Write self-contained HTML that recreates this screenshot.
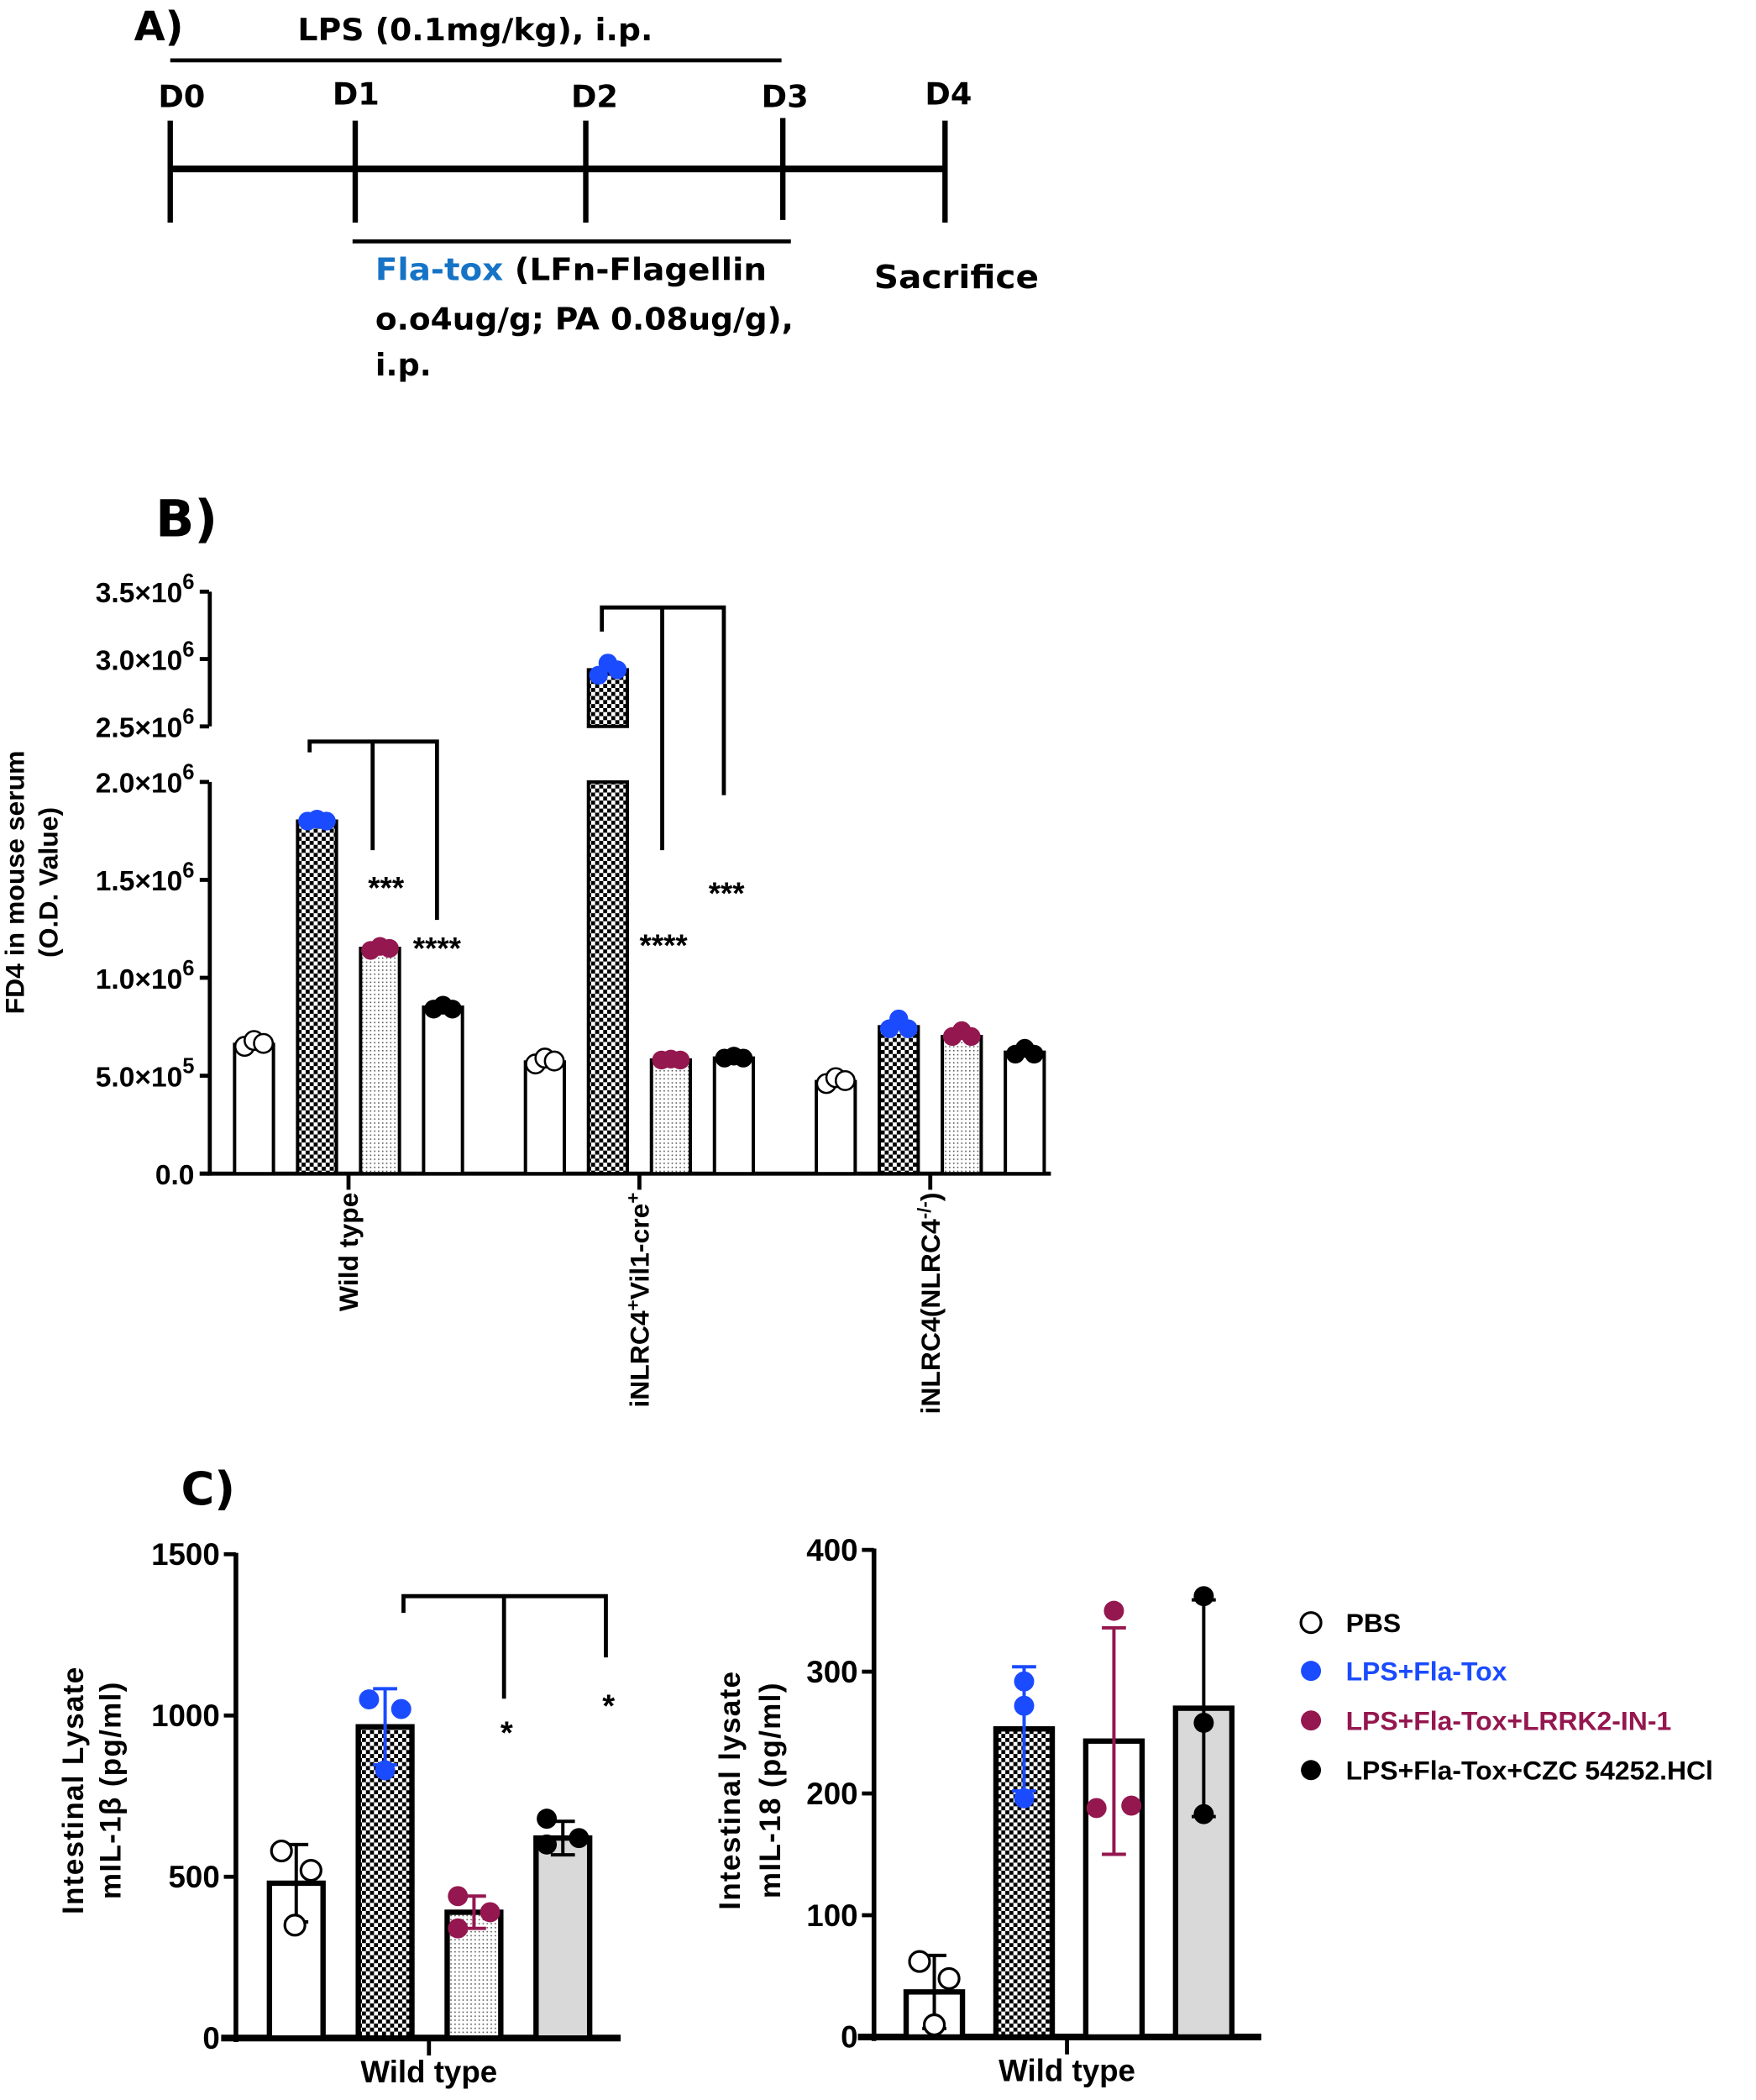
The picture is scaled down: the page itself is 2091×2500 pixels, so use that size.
<!DOCTYPE html>
<html><head><meta charset="utf-8">
<style>
html,body{margin:0;padding:0;background:#fff;}
svg{display:block;}
.t{font-family:"DejaVu Sans","Liberation Sans",sans-serif;font-weight:bold;fill:#000;}
.c{font-family:"Liberation Sans",sans-serif;font-weight:bold;fill:#000;}
</style></head>
<body>
<svg id="fig" xmlns="http://www.w3.org/2000/svg" width="2091" height="2500" viewBox="0 0 1310 1566" preserveAspectRatio="none">
<defs>
<pattern id="checker" width="6" height="6" patternUnits="userSpaceOnUse"><rect width="6" height="6" fill="#fff"/><rect width="3" height="3" fill="#000"/><rect x="3" y="3" width="3" height="3" fill="#000"/></pattern>
<pattern id="stipple" width="3" height="3" patternUnits="userSpaceOnUse"><rect width="3" height="3" fill="#fff"/><rect width="1" height="1" fill="#555"/></pattern>
</defs>
<!-- Panel A -->
<g>
<text class="t" x="100" y="30" font-size="30">A)</text>
<text class="t" x="222" y="30" font-size="23" textLength="265" lengthAdjust="spacingAndGlyphs">LPS (0.1mg/kg), i.p.</text>
<line x1="127" y1="45" x2="583" y2="45" stroke="#000" stroke-width="3"/>
<text class="t" x="118" y="80" font-size="23">D0</text>
<text class="t" x="248" y="78" font-size="23">D1</text>
<text class="t" x="426" y="80" font-size="23">D2</text>
<text class="t" x="568" y="80" font-size="23">D3</text>
<text class="t" x="690" y="78" font-size="23">D4</text>
<line x1="127" y1="126" x2="705" y2="126" stroke="#000" stroke-width="5"/>
<g stroke="#000" stroke-width="4">
<line x1="127" y1="90" x2="127" y2="166"/><line x1="265" y1="90" x2="265" y2="166"/><line x1="437" y1="90" x2="437" y2="166"/><line x1="584" y1="88" x2="584" y2="164"/><line x1="705" y1="90" x2="705" y2="166"/>
</g>
<line x1="263" y1="180" x2="590" y2="180" stroke="#000" stroke-width="3"/>
<text class="t" x="280" y="209" font-size="23" textLength="292" lengthAdjust="spacingAndGlyphs"><tspan fill="#1673c6">Fla-tox</tspan> (LFn-Flagellin</text>
<text class="t" x="280" y="246" font-size="23" textLength="312" lengthAdjust="spacingAndGlyphs">o.o4ug/g; PA 0.08ug/g),</text>
<text class="t" x="280" y="280" font-size="23">i.p.</text>
<text class="t" x="652" y="215" font-size="24" textLength="123" lengthAdjust="spacingAndGlyphs">Sacrifice</text>
</g>
<text class="t" x="116" y="400" font-size="38">B)</text>
<text class="t" x="135" y="1122" font-size="34">C)</text>
<g id="chartB"></g>
<g id="chartC1"></g>
<g id="chartC2"></g>
<g id="legend"></g>
</svg>
<script>
// ---------- Panel B data ----------
const bCategories = ["Wild type", "iNLRC4+Vil1-cre+", "iNLRC4(NLRC4-/-)"];
const bPBS  = [660000, 570000, 470000];
const bFla  = [1800000, 2920000, 750000];
const bLRRK = [1150000, 580000, 700000];
const bCZC  = [850000, 590000, 620000];
const bPBSpts  = [[650000,680000,665000],[560000,590000,575000],[460000,490000,475000]];
const bFlaPts  = [[1800000,1810000,1800000],[2880000,2970000,2920000],[740000,790000,740000]];
const bLRRKpts = [[1140000,1160000,1150000],[580000,585000,580000],[700000,730000,700000]];
const bCZCpts  = [[840000,860000,840000],[590000,600000,590000],[610000,640000,610000]];
const bTicks = [0, 500000, 1000000, 1500000, 2000000, 2500000, 3000000, 3500000];
const bTickLabels = ["0.0", "5.0×10^5", "1.0×10^6", "1.5×10^6", "2.0×10^6", "2.5×10^6", "3.0×10^6", "3.5×10^6"];
// ---------- Panel C data ----------
const cSeries = ["PBS", "LPS+Fla-Tox", "LPS+Fla-Tox+LRRK2-IN-1", "LPS+Fla-Tox+CZC 54252.HCl"];
const il1bMean = [480, 965, 390, 620];
const il1bSD   = [120, 118, 50, 52];
const il1bPts  = [[580, 520, 350], [1050, 1020, 830], [440, 390, 340], [680, 620, 600]];
const il1bTicks = [0, 500, 1000, 1500];
const il18Mean = [37, 253, 243, 270];
const il18SD   = [30, 51, 93, 89];
const il18Pts  = [[62, 48, 10], [292, 272, 196], [350, 188, 190], [362, 258, 183]];
const il18Ticks = [0, 100, 200, 300, 400];

const NS = "http://www.w3.org/2000/svg";
const COLORS = ["#000", "#1a4bff", "#95174f", "#000"];
function mk(tag, attrs, parent){const e=document.createElementNS(NS,tag);for(const k in attrs)e.setAttribute(k,attrs[k]);parent.appendChild(e);return e;}

// ---------- Panel B ----------
(function(){
  const g = document.getElementById("chartB");
  const y0 = 875.2, y2 = 583.1, y25 = 541.7;
  function yB(v){ return v <= 2000000 ? y0 - (y0 - y2) * v / 2000000 : y25 - (v - 2500000) * (y25 - 441.2) / 1000000; }
  const xAxisStart = 149, xAxisEnd = 784, groupStart = 175, groupStep = 217, barStep = 47, bw = 29;
  function xBar(gi, si){ return groupStart + gi * groupStep + si * barStep; }
  let a = mk("line",{x1:156.5,y1:y0+1.5,x2:156.5,y2:y2,stroke:"#000","stroke-width":3},g);
  
  
  a = mk("line",{x1:156.5,y1:y25,x2:156.5,y2:441.2,stroke:"#000","stroke-width":3},g);
  
  
  a = mk("line",{x1:xAxisStart,y1:y0,x2:xAxisEnd,y2:y0,stroke:"#000","stroke-width":3},g);
  
  
  bTicks.forEach((v,i)=>{
    const y = yB(v);
    const t = mk("line",{x1:149,y1:y,x2:156,y2:y,stroke:"#000","stroke-width":3},g);
    
    
    const parts = bTickLabels[i].split("^");
    const tx = mk("text",{x:145,y:y+8,"text-anchor":"end","font-size":21,class:"c"},g);
    
    
    tx.appendChild(document.createTextNode(parts[0]));
    if(parts[1]){ const s = mk("tspan",{dy:-10,"font-size":16},tx); s.textContent = parts[1]; }
  });
  const yl = mk("text",{transform:"translate(18,658) rotate(-90)","text-anchor":"middle","font-size":20,class:"c"},g);
  
  
  yl.textContent = "FD4 in mouse serum";
  const yl2 = mk("text",{transform:"translate(43,658) rotate(-90)","text-anchor":"middle","font-size":20,class:"c"},g);
  
  
  yl2.textContent = "(O.D. Value)";
  const series = [bPBS,bFla,bLRRK,bCZC], pts = [bPBSpts,bFlaPts,bLRRKpts,bCZCpts];
  const fills = ["#fff","url(#checker)","url(#stipple)","#fff"];
  const catSup = [["Wild type"],["iNLRC4","+","Vil1-cre","+"],["iNLRC4(NLRC4","-/-",")"]];
  bCategories.forEach((cat,gi)=>{
    const cx = xBar(gi,0) + (3*barStep + bw)/2;
    const tk = mk("line",{x1:cx,y1:y0,x2:cx,y2:y0+12,stroke:"#000","stroke-width":3},g);
    
    
    const lab = mk("text",{transform:`translate(${cx+7},${y0+14}) rotate(-90)`,"text-anchor":"end","font-size":20,class:"c"},g);
    
    
    catSup[gi].forEach((p,k)=>{ const s=mk("tspan",{},lab); s.textContent=p; if(k%2===1){s.setAttribute("dy",-7);s.setAttribute("font-size",14);} else if(k>0){s.setAttribute("dy",7);} });
    series.forEach((arr,si)=>{
      const v = arr[gi], x = xBar(gi,si);
      const segs = v > 2000000 ? [[0,2000000],[2500000,v]] : [[0,v]];
      segs.forEach(sg=>{
        const r = mk("rect",{x:x,y:yB(sg[1]),width:bw,height:yB(sg[0])-yB(sg[1]),fill:fills[si],stroke:"#000","stroke-width":2.5},g);
        
        
      });
      pts[si][gi].forEach((pv,k)=>{
        const c = mk("circle",{cx:x+bw/2+(k-1)*7,cy:yB(pv),r:7,fill:si===0?"#fff":COLORS[si],stroke:si===0?"#000":"none","stroke-width":1.6},g);
        
        
      });
    });
  });
  function bracket(x1,xm,x2,ytop,yl,ym,yr,s1,s2){
    const p = mk("path",{d:`M${x1},${yl}V${ytop}H${x2}V${yr}M${xm},${ytop}V${ym}`,fill:"none",stroke:"#000","stroke-width":3},g);
    
    
    [s1,s2].forEach(s=>{ const t=mk("text",{x:s[0],y:s[1],"text-anchor":"middle","font-size":23,class:"c"},g);
      
      
      t.textContent=s[2]; });
  }
  bracket(231,278,326,553,561,634,686,[288,670,"***"],[326,715,"****"]);
  bracket(449,494,540,453,471,634,593,[495,713,"****"],[542,674,"***"]);
})();

// ---------- Panel C ----------
function drawC(gid, mean, sd, pts, ticks, opt){
  const g = document.getElementById(gid);
  const yS = v => opt.y0 - (opt.y0 - opt.yTop) * v / opt.max;
  let a = mk("line",{x1:opt.ax,y1:opt.y0+3,x2:opt.ax,y2:yS(opt.max)-1,stroke:"#000","stroke-width":3.5},g);
  
  
  a = mk("line",{x1:opt.xs,y1:opt.y0,x2:opt.xe,y2:opt.y0,stroke:"#000","stroke-width":5},g);
  
  
  ticks.forEach(v=>{
    const t = mk("line",{x1:opt.ax-9,y1:yS(v),x2:opt.ax,y2:yS(v),stroke:"#000","stroke-width":3},g);
    
    
    const tx = mk("text",{x:opt.ax-12,y:yS(v)+8,"text-anchor":"end","font-size":23,class:"c"},g);
    
    
    tx.textContent = v;
  });
  const xt = mk("line",{x1:opt.tickX,y1:opt.y0,x2:opt.tickX,y2:opt.y0+13,stroke:"#000","stroke-width":3},g);
  
  
  const xl = mk("text",{x:opt.tickX,y:opt.y0+33,"text-anchor":"middle","font-size":23,class:"c"},g);
  
  
  xl.textContent = "Wild type";
  opt.titles.forEach((tt,i)=>{
    const t = mk("text",{transform:`translate(${opt.titleX[i]},1335) rotate(-90)`,"text-anchor":"middle","font-size":22,class:"c","letter-spacing":"0.8"},g);
    
    
    t.textContent = tt;
  });
  mean.forEach((m,i)=>{
    const x = opt.bx + i*opt.step;
    const r = mk("rect",{x:x,y:yS(m),width:opt.bw,height:opt.y0-yS(m),fill:opt.fills[i],stroke:"#000","stroke-width":4},g);
    
    
    const cx = x + opt.bw/2, col = opt.errCol[i];
    const e = mk("path",{d:`M${cx},${yS(m+sd[i])}V${yS(m-sd[i])}M${cx-9},${yS(m+sd[i])}h18M${cx-9},${yS(m-sd[i])}h18`,stroke:col,"stroke-width":2.5,fill:"none"},g);
    
    
    pts[i].forEach((pv,k)=>{
      const off = opt.jit[i][k];
      const c = mk("circle",{cx:cx+off,cy:yS(pv),r:7.5,fill:i===0?"#fff":COLORS[i],stroke:i===0?"#000":"none","stroke-width":2},g);
      
      
    });
  });
  if(opt.bracket){
    const b = opt.bracket;
    const p = mk("path",{d:`M${b[0]},${yS(b[4])}V${yS(b[3])}H${b[2]}V${yS(b[6])}M${b[1]},${yS(b[3])}V${yS(b[5])}`,fill:"none",stroke:"#000","stroke-width":3},g);
    
    
    [[b[1],1300],[b[2],1280]].forEach(s=>{
      const t = mk("text",{x:s[0]+2,y:s[1],"text-anchor":"middle","font-size":24,class:"c"},g);
      
      
      t.textContent = "*";
    });
  }
}
drawC("chartC1", il1bMean, il1bSD, il1bPts, il1bTicks, {y0:1519.8,yTop:1159,max:1500,ax:176,xs:165,xe:463,tickX:320,bx:201,step:66.3,bw:40,
  fills:["#fff","url(#checker)","url(#stipple)","#d9d9d9"],errCol:["#000","#1a4bff","#95174f","#000"],
  jit:[[-11,11,-1],[-12,12,0],[-12,12,-12],[-12,12,-12]],
  titles:["Intestinal Lysate","mIL-1β (pg/ml)"],titleX:[62,90],
  bracket:[301,376,452,1370,1318,1052,1180]});
drawC("chartC2", il18Mean, il18SD, il18Pts, il18Ticks, {y0:1519,yTop:1155.8,max:400,ax:652,xs:640,xe:941,tickX:796,bx:676,step:67,bw:42,
  fills:["#fff","url(#checker)","#fff","#d9d9d9"],errCol:["#000","#1a4bff","#95174f","#000"],
  jit:[[-11,11,0],[0,0,0],[0,-13,13],[0,0,0]],
  titles:["Intestinal lysate","mIL-18 (pg/ml)"],titleX:[552,582]});
// legend
(function(){
  const g = document.getElementById("legend");
  const ys = [1210, 1246, 1283, 1320];
  const tcol = ["#000","#1a4bff","#95174f","#000"];
  cSeries.forEach((s,i)=>{
    const c = mk("circle",{cx:978,cy:ys[i],r:7.5,fill:i===0?"#fff":COLORS[i],stroke:i===0?"#000":"none","stroke-width":2},g);
    
    
    const t = mk("text",{x:1004,y:ys[i]+7,"font-size":20,class:"c",fill:tcol[i]},g);
    
    
    t.style.fill = tcol[i];
    t.textContent = s;
  });
})();
</script>
</body></html>
